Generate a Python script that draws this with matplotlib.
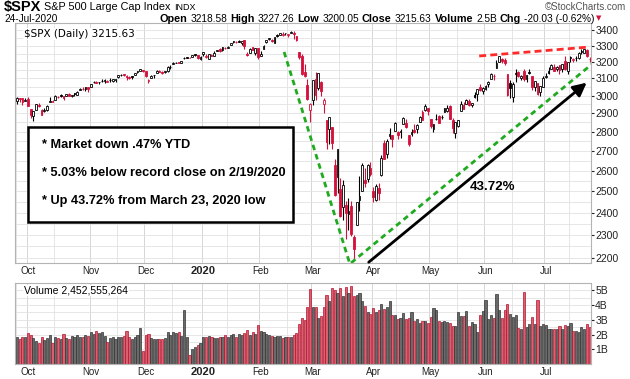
import matplotlib
matplotlib.use("Agg")
import matplotlib.pyplot as plt
import numpy as np
import pandas as pd
from matplotlib.patches import Rectangle
from matplotlib.transforms import IdentityTransform

# trading days shown on the chart
holidays = ["2019-11-28", "2019-12-25", "2020-01-01", "2020-01-20",
            "2020-02-17", "2020-04-10", "2020-05-25", "2020-07-03"]
dates = pd.bdate_range("2019-09-25", "2020-07-24")
dates = dates[~dates.isin(pd.to_datetime(holidays))]

prev_close = 2966.6

opens = [
    2968, 2986, 2985, 2968,
    2983, 2924, 2885, 2919, 2945, 2921, 2912, 2919, 2964, 2966, 2974, 2990, 3001, 2996, 2997, 3011, 2995, 3014, 3004, 3033, 3036, 3039, 3047,
    3051, 3078, 3081, 3076, 3087, 3082, 3080, 3089, 3084, 3091, 3107, 3118, 3128, 3115, 3108, 3112, 3118, 3135, 3145, 3147,
    3144, 3087, 3103, 3120, 3134, 3141, 3135, 3135, 3141, 3167, 3183, 3195, 3196, 3193, 3223, 3227, 3225, 3227, 3247, 3240, 3216,
    3245, 3226, 3218, 3242, 3238, 3267, 3281, 3272, 3285, 3283, 3302, 3323, 3321, 3330, 3316, 3333, 3248, 3255, 3289, 3256, 3283,
    3235, 3281, 3325, 3344, 3335, 3319, 3366, 3370, 3365, 3378, 3370, 3380, 3380, 3361, 3258, 3238, 3140, 3063, 2916,
    2975, 3097, 3046, 3076, 2954, 2863, 2813, 2825, 2630, 2569, 2509, 2426, 2437, 2394, 2432, 2291, 2345, 2457, 2502, 2556, 2558, 2614,
    2499, 2458, 2514, 2578, 2738, 2686, 2776, 2783, 2805, 2796, 2800, 2842, 2846, 2784, 2787, 2810, 2812, 2855, 2909, 2918, 2930,
    2869, 2815, 2868, 2883, 2879, 2909, 2915, 2939, 2865, 2794, 2830, 2913, 2948, 2953, 2970, 2948, 3005, 3006, 3047, 3026,
    3038, 3064, 3098, 3112, 3163, 3199, 3214, 3213, 3123, 3072, 2993, 3131, 3137, 3101, 3141, 3095, 3138, 3115, 3047, 3074, 3019, 3050,
    3105, 3143, 3155, 3166, 3154, 3177, 3153, 3206, 3142, 3225, 3209, 3224, 3225, 3268, 3254, 3271, 3219,
]
highs = [
    2989, 2987, 2988, 2984,
    2993, 2925, 2911, 2953, 2959, 2925, 2930, 2948, 2993, 2973, 3004, 2997, 3009, 3000, 3008, 3015, 3005, 3016, 3028, 3044, 3047, 3050, 3047,
    3067, 3085, 3084, 3079, 3098, 3094, 3088, 3103, 3098, 3097, 3121, 3124, 3128, 3119, 3111, 3113, 3134, 3142, 3155, 3151,
    3144, 3095, 3120, 3120, 3150, 3148, 3142, 3144, 3176, 3182, 3198, 3198, 3199, 3206, 3226, 3227, 3226, 3240, 3248, 3240, 3232,
    3258, 3246, 3247, 3245, 3268, 3275, 3282, 3288, 3294, 3299, 3317, 3330, 3329, 3337, 3326, 3334, 3258, 3285, 3293, 3285, 3283,
    3268, 3306, 3337, 3347, 3341, 3352, 3375, 3381, 3385, 3381, 3376, 3393, 3390, 3361, 3260, 3247, 3183, 3098, 2959,
    3091, 3137, 3130, 3084, 2985, 2863, 2882, 2825, 2660, 2711, 2562, 2553, 2454, 2466, 2453, 2300, 2450, 2572, 2638, 2615, 2631, 2641,
    2522, 2533, 2539, 2676, 2756, 2760, 2819, 2783, 2852, 2802, 2816, 2880, 2868, 2785, 2815, 2844, 2842, 2887, 2921, 2954, 2931,
    2869, 2844, 2898, 2891, 2892, 2932, 2945, 2945, 2875, 2852, 2865, 2968, 2965, 2980, 2978, 2957, 3021, 3036, 3069, 3050,
    3062, 3082, 3131, 3128, 3211, 3233, 3223, 3223, 3123, 3089, 3079, 3154, 3142, 3121, 3156, 3120, 3155, 3115, 3086, 3074, 3054, 3112,
    3129, 3165, 3183, 3185, 3171, 3180, 3186, 3236, 3198, 3238, 3221, 3233, 3259, 3278, 3280, 3280, 3227,
]
lows = [
    2953, 2965, 2946, 2968,
    2938, 2874, 2856, 2917, 2935, 2892, 2907, 2912, 2962, 2962, 2974, 2986, 2991, 2977, 2995, 2995, 2991, 3000, 3002, 3033, 3034, 3025, 3023,
    3051, 3075, 3072, 3065, 3081, 3075, 3077, 3081, 3078, 3081, 3104, 3113, 3114, 3091, 3095, 3099, 3118, 3131, 3143, 3139,
    3110, 3070, 3103, 3103, 3134, 3135, 3126, 3133, 3138, 3157, 3183, 3189, 3191, 3192, 3217, 3223, 3221, 3227, 3235, 3217, 3213,
    3235, 3222, 3215, 3233, 3236, 3263, 3260, 3268, 3277, 3282, 3302, 3319, 3316, 3320, 3302, 3281, 3234, 3253, 3271, 3242, 3215,
    3235, 3281, 3313, 3334, 3322, 3317, 3353, 3369, 3360, 3367, 3355, 3378, 3341, 3328, 3214, 3118, 3108, 2977, 2855,
    2948, 2977, 3034, 2999, 2901, 2707, 2734, 2707, 2478, 2492, 2381, 2367, 2281, 2320, 2295, 2192, 2345, 2407, 2500, 2520, 2545, 2571,
    2447, 2455, 2460, 2574, 2657, 2664, 2762, 2721, 2805, 2761, 2765, 2842, 2821, 2727, 2775, 2794, 2791, 2855, 2861, 2913, 2892,
    2822, 2798, 2864, 2847, 2870, 2909, 2908, 2869, 2794, 2766, 2825, 2913, 2922, 2953, 2939, 2934, 2988, 2970, 3024, 3008,
    3032, 3052, 3098, 3091, 3163, 3196, 3194, 3182, 2999, 2984, 2965, 3077, 3108, 3093, 3083, 3079, 3124, 3033, 3024, 3005, 2999, 3048,
    3101, 3124, 3155, 3145, 3142, 3126, 3137, 3152, 3128, 3200, 3199, 3206, 3216, 3247, 3253, 3229, 3200,
]
closes = [
    2985, 2978, 2962, 2977,
    2940, 2888, 2911, 2952, 2939, 2893, 2919, 2938, 2970, 2966, 2996, 2990, 2998, 2986, 3007, 2996, 3005, 3010, 3023, 3039, 3037, 3047, 3038,
    3067, 3078, 3075, 3077, 3085, 3093, 3087, 3092, 3094, 3097, 3120, 3122, 3120, 3108, 3104, 3110, 3134, 3141, 3154, 3141,
    3114, 3093, 3113, 3117, 3146, 3136, 3133, 3142, 3169, 3169, 3191, 3193, 3191, 3205, 3221, 3224, 3223, 3240, 3240, 3221, 3231,
    3258, 3235, 3246, 3237, 3253, 3275, 3265, 3288, 3283, 3289, 3317, 3330, 3321, 3322, 3326, 3295, 3244, 3276, 3273, 3284, 3226,
    3249, 3298, 3335, 3346, 3328, 3352, 3358, 3379, 3374, 3380, 3370, 3386, 3373, 3338, 3226, 3128, 3116, 2979, 2954,
    3090, 3003, 3130, 3024, 2972, 2747, 2882, 2741, 2481, 2711, 2386, 2529, 2398, 2409, 2305, 2237, 2447, 2476, 2630, 2541, 2627, 2585,
    2471, 2527, 2489, 2664, 2659, 2750, 2790, 2762, 2846, 2783, 2800, 2875, 2823, 2737, 2799, 2798, 2837, 2878, 2863, 2940, 2912,
    2831, 2843, 2868, 2848, 2881, 2930, 2930, 2870, 2820, 2853, 2864, 2954, 2923, 2972, 2949, 2955, 2992, 3036, 3030, 3044,
    3056, 3081, 3123, 3112, 3194, 3232, 3207, 3190, 3002, 3041, 3067, 3125, 3113, 3115, 3098, 3118, 3131, 3050, 3084, 3009, 3053, 3100,
    3116, 3130, 3180, 3145, 3170, 3152, 3185, 3155, 3198, 3227, 3216, 3225, 3252, 3257, 3276, 3236, 3216,
]
# volume in billions of shares
volumes = [
    1.80, 1.70, 1.80, 1.85,
    2.10, 1.95, 1.75, 1.55, 1.45, 1.80, 1.60, 1.75, 1.95, 1.45, 1.80, 1.75, 1.70, 2.05, 1.75, 1.70, 1.90, 1.80, 1.95, 1.80, 1.85, 2.00, 1.90,
    2.20, 2.05, 2.25, 2.10, 2.20, 1.90, 1.50, 1.75, 1.80, 1.70, 1.85, 1.80, 1.90, 2.25, 1.85, 1.70, 1.85, 1.95, 2.45, 0.90,
    1.95, 2.05, 1.75, 1.70, 1.70, 1.70, 1.70, 1.75, 2.20, 2.00, 2.20, 2.10, 2.15, 1.90, 3.70, 1.85, 0.60, 1.05, 1.15, 1.30, 1.40,
    1.85, 1.85, 1.90, 1.85, 1.75, 1.75, 1.80, 1.80, 1.95, 1.85, 2.00, 2.05, 1.85, 2.05, 1.95, 2.10, 2.30, 1.95, 2.15, 2.05, 2.65,
    2.25, 2.20, 2.05, 1.95, 1.90, 1.85, 1.90, 1.90, 1.75, 1.85, 1.85, 1.80, 1.95, 2.10, 2.70, 3.15, 3.00, 3.90, 5.10,
    3.85, 3.85, 3.10, 3.25, 3.90, 4.70, 4.30, 5.15, 5.05, 4.85, 5.15, 4.60, 5.20, 4.80, 5.30, 4.65, 4.70, 4.85, 4.30, 3.95, 3.50, 3.40,
    3.80, 3.50, 3.70, 4.05, 3.75, 3.90, 4.25, 3.30, 3.35, 3.05, 3.15, 3.45, 3.05, 3.10, 3.55, 2.90, 3.05, 2.80, 2.90, 2.90, 2.80,
    3.20, 3.80, 3.65, 2.90, 2.85, 2.95, 2.85, 2.80, 2.55, 2.60, 3.50, 3.25, 3.25, 3.60, 2.55, 2.85, 2.70, 2.15, 3.30, 3.60,
    4.35, 3.05, 3.30, 3.10, 4.75, 3.65, 3.10, 3.65, 4.05, 3.40, 3.20, 3.30, 2.45, 2.40, 4.90, 2.50, 2.70, 3.20, 2.70, 4.35, 2.60, 2.70,
    2.65, 2.35, 2.35, 2.35, 2.40, 2.55, 2.40, 2.65, 2.60, 2.80, 2.25, 2.25, 2.20, 2.50, 2.40, 2.70, 2.50,
]
price_ticks = list(range(2200, 3401, 100))
vol_ticks = [1, 2, 3, 4, 5]
vol_tick_labels = ["1B", "2B", "3B", "4B", "5B"]
month_labels = ["Oct", "Nov", "Dec", "2020", "Feb", "Mar", "Apr", "May", "Jun", "Jul"]
notes = ["* Market down .47% YTD",
         "* 5.03% below record close on 2/19/2020",
         "* Up 43.72% from March 23, 2020 low"]

RED = "#d4113b"
FONT = "Liberation Sans"
GRID = "#e2e2e2"

o = np.array(opens, float)
h = np.array(highs, float)
l = np.array(lows, float)
c = np.array(closes, float)
v = np.array(volumes, float)
x = np.arange(len(c))
prev = np.r_[prev_close, c[:-1]]
down = c < prev

# month starts and mid-month positions for ticks / grid
ser = pd.Series(x, index=dates)
periods = ser.index.to_period("M")
month_pos = [ser[periods == p].iloc[0] for p in periods.unique()][1:]
mid_pos = []
for p in periods.unique():
    s = ser[(periods == p) & (ser.index.day >= 15)]
    if len(s):
        mid_pos.append(s.iloc[0])

fig = plt.figure(figsize=(6.3, 3.79), dpi=100)
W, H = 630, 379
ax = fig.add_axes([15 / W, 1 - 263 / H, 576 / W, 240 / H])
axv = fig.add_axes([15 / W, 1 - 364 / H, 576 / W, 81 / H])

for a in (ax, axv):
    for sp in a.spines.values():
        sp.set_color("#b4b4b4")
        sp.set_linewidth(0.8)
    for p in month_pos:
        a.axvline(p - 0.5, color="#d6d6d6", lw=0.7, zorder=0)
    for p in mid_pos:
        a.axvline(p - 0.5, color=GRID, lw=0.6, zorder=0)
    a.set_xlim(-0.7, len(c) - 0.5)
    a.set_xticks(month_pos)
    a.set_xticklabels(month_labels, fontsize=7, family=FONT, color="#222222")
    a.get_xticklabels()[3].set_fontweight("bold")
    a.get_xticklabels()[3].set_fontsize(8)
    a.tick_params(axis="x", length=0, pad=2)
    a.yaxis.tick_right()
    a.tick_params(axis="y", length=2, labelsize=7.5, colors="#222222", pad=1)

# price panel (log scale)
ax.set_yscale("log")
ax.set_ylim(2180, 3445)
ax.set_yticks(price_ticks)
ax.set_yticklabels([str(t) for t in price_ticks], family=FONT)
ax.yaxis.set_minor_locator(matplotlib.ticker.NullLocator())
for t in range(2200, 3451, 50):
    ax.axhline(t, color=GRID, lw=0.6, zorder=0)

col = np.where(down, RED, "black")
ax.vlines(x, l, h, colors=col, lw=0.8, zorder=2)
bottom = np.minimum(o, c)
height = np.maximum(np.abs(c - o), 1.5)
fill = np.where(c >= o, "white", col)
ax.bar(x, height, bottom=bottom, width=0.65, color=fill, edgecolor=col, lw=0.6, zorder=3)

# annotations
ax.plot([97.5, 121.5, 212], [3260, 2176, 3215], color="#1faa1f", lw=2, ls=(0, (2, 1.5)), zorder=4)
ax.plot([168.7, 209], [3235, 3291], color="#ff2a2a", lw=2, ls=(0, (2.5, 1.5)), zorder=4)
ax.annotate("", xy=(208.7, 3085), xytext=(127.6, 2176),
            arrowprops=dict(arrowstyle="-|>,head_length=0.8,head_width=0.4", color="black", lw=2), zorder=5)
ax.text(173.5, 2520, "43.72%", fontsize=9.5, fontweight="bold", family=FONT, ha="center", va="center")

ax.add_patch(Rectangle((13 / 576, 41 / 240), 265 / 576, 95 / 240, transform=ax.transAxes,
                       facecolor="white", edgecolor="black", lw=1.8, zorder=6))
for i, s in enumerate(notes):
    ax.text(27 / 576, (118 - 28 * i) / 240, s, transform=ax.transAxes, fontsize=9.2,
            fontweight="bold", family=FONT, va="center", zorder=7)

ax.text(0.016, 0.975, "$SPX (Daily) 3215.63", transform=ax.transAxes, fontsize=7.5,
        family="DejaVu Sans", va="top", zorder=7,
        bbox=dict(facecolor="white", edgecolor="none", pad=0.5))

# volume panel
vcol = np.where(down, "#d9606f", "#6a6a6a")
vedge = np.where(down, "#b5122f", "#333333")
axv.bar(x, v, width=0.78, color=vcol, edgecolor=vedge, lw=0.5, zorder=2)
axv.set_ylim(0, 5.5)
axv.set_yticks(vol_ticks)
axv.set_yticklabels(vol_tick_labels, family=FONT)
for t in np.arange(0.5, 5.6, 0.5):
    axv.axhline(t, color=GRID, lw=0.6, zorder=0)
axv.text(0.016, 0.97, "Volume 2,452,555,264", transform=axv.transAxes, fontsize=7.5,
         family=FONT, va="top", zorder=7, bbox=dict(facecolor="white", edgecolor="none", pad=0.5))

# header
r = fig.canvas.get_renderer()


def run(x0, y0, parts):
    for s, kw in parts:
        t = fig.text(x0, H - y0, s, transform=IdentityTransform(), va="center", family=FONT, **kw)
        x0 = t.get_window_extent(r).x1 + 3
    return x0


run(4, 7, [("$SPX", dict(fontsize=10.5, fontweight="bold")),
           ("S&P 500 Large Cap Index", dict(fontsize=7.8)),
           ("INDX", dict(fontsize=6.5))])
fig.text(626, H - 7, "\u00a9StockCharts.com", transform=IdentityTransform(), va="center",
         ha="right", fontsize=7, family=FONT, color="#555555")
fig.text(4, H - 18.5, "24-Jul-2020", transform=IdentityTransform(), va="center", fontsize=7.2, family=FONT)
b = dict(fontsize=7.8, fontweight="bold")
n = dict(fontsize=7.3)
end = run(160, 18.5, [("Open", b), ("3218.58", n), ("High", b), ("3227.26", n), ("Low", b), ("3200.05", n),
                      ("Close", b), ("3215.63", n), ("Volume", b), ("2.5B", n), ("Chg", b), ("-20.03 (-0.62%)", n)])
fig.text(end - 1, H - 18.5, "\u25bc", transform=IdentityTransform(), va="center", fontsize=5, color=RED)

fig.savefig("out.png", dpi=100)
